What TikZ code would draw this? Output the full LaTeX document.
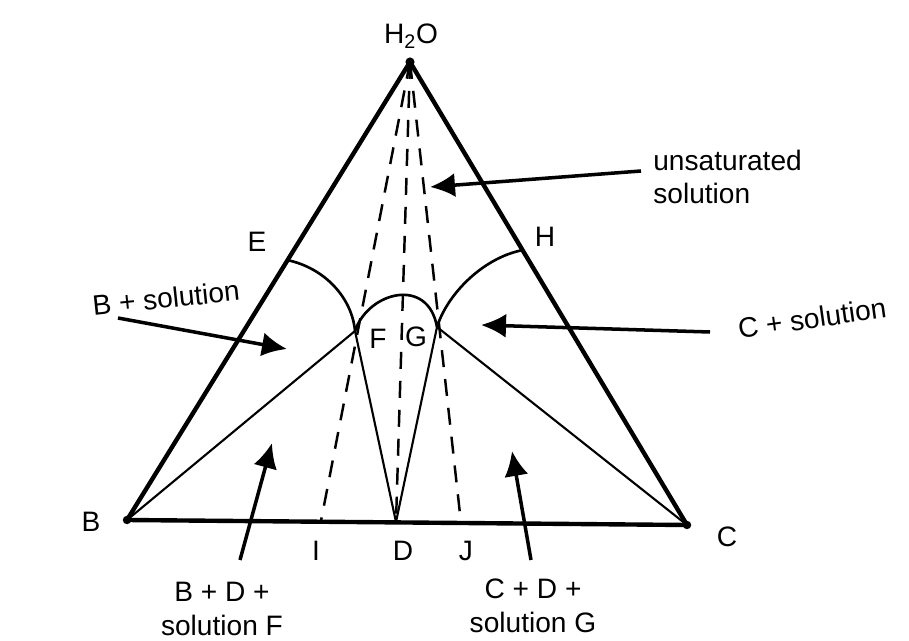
\documentclass[tikz,border=0pt]{standalone}
\usepackage{fontspec}
\setmainfont{Liberation Sans}
\usetikzlibrary{arrows.meta}

\begin{document}
\begin{tikzpicture}[x=0.02cm, y=-0.02cm,
    side/.style={line width=2.5pt, line join=round},
    tie/.style={line width=1.2pt},
    bound/.style={line width=1.5pt},
    guide/.style={line width=1.4pt, dash pattern=on 0.34cm off 0.24cm},
    pointer/.style={line width=2pt, -{Latex[length=0.5cm, width=0.48cm]}},
    lbl/.style={font=\fontsize{16}{19}\selectfont, inner sep=0pt, align=center}
  ]
    \useasboundingbox (0,0) rectangle (909,641);

    % Corners and points of the diagram
    \coordinate (W) at (410,62);
    \coordinate (B) at (127,520);
    \coordinate (C) at (687,525);
    \coordinate (D) at (396,522);
    \coordinate (I) at (321,521);
    \coordinate (J) at (461,523);
    \coordinate (E) at (287,260);
    \coordinate (H) at (523,250);
    \coordinate (F) at (355,331);
    \coordinate (G) at (437,327);

    % Triangle
    \draw[side] (B) -- (W) -- (C) -- cycle;
    \fill (W) circle (2.6pt);
    \fill (B) circle (2.4pt);
    \fill (C) circle (2.4pt);

    % Tie lines
    \draw[tie] (B) -- (F);
    \draw[tie] (C) -- (G);
    \draw[tie] (D) -- (F);
    \draw[tie] (D) -- (G);

    % Solubility curves
    \draw[bound] (E) .. controls (325,268) and (352,298) .. (F);
    \draw[bound] (H) .. controls (482,258) and (447,295) .. (G);
    \draw[bound] (F) .. controls (368,292) and (428,276) .. (G);

    % Dashed lines from water
    \draw[guide] (W) -- (I);
    \draw[guide] (W) -- (D);
    \draw[guide] (W) -- (J);

    % Labels
    \node[lbl] (lW) at (411,36) {H\textsubscript{2}O};
    \node[lbl] (lE) at (257,242) {E};
    \node[lbl] (lH) at (545,237) {H};
    \node[lbl] (lF) at (378,339) {F};
    \node[lbl] (lG) at (416,337) {G};
    \node[lbl] (lB) at (91,522) {B};
    \node[lbl] (lC) at (727,537) {C};
    \node[lbl] (lI) at (316,551) {I};
    \node[lbl] (lD) at (403,551) {D};
    \node[lbl] (lJ) at (466,551) {J};

    \node[lbl, anchor=west, align=left] (unsat) at (653,177) {unsaturated\\solution};
    \node[lbl, rotate=6] (bsol) at (166,298) {B + solution};
    \node[lbl, rotate=8] (csol) at (812,318) {C + solution};
    \node[lbl] (bdsol) at (222,609) {B + D +\\solution F};
    \node[lbl] (cdsol) at (533,606) {C + D +\\solution G};

    % Arrows
    \coordinate (tU) at (641,171);
    \coordinate (hU) at (430,187);
    \coordinate (tB) at (118,318);
    \coordinate (hB) at (287,349);
    \coordinate (tC) at (710,332);
    \coordinate (hC) at (481,325);
    \coordinate (tBD) at (240,560);
    \coordinate (hBD) at (272,443);
    \coordinate (tCD) at (531,560);
    \coordinate (hCD) at (512,451);

    \draw[pointer] (tU) -- (hU);
    \draw[pointer] (tB) -- (hB);
    \draw[pointer] (tC) -- (hC);
    \draw[pointer] (tBD) -- (hBD);
    \draw[pointer] (tCD) -- (hCD);
\end{tikzpicture}
\end{document}
